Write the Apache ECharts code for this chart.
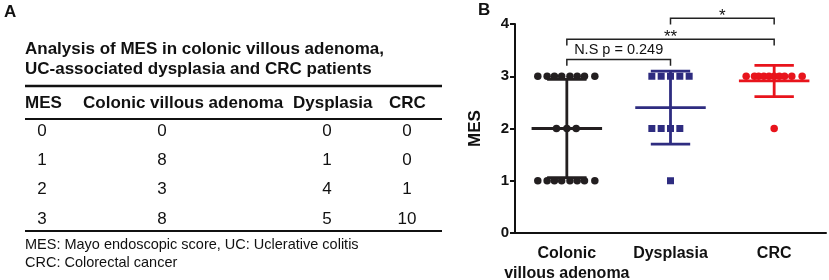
<!DOCTYPE html>
<html>
<head>
<meta charset="utf-8">
<script src="https://cdn.jsdelivr.net/npm/echarts@6/dist/echarts.min.js"></script>
<style>
  html, body { margin: 0; padding: 0; background: #fff; }
</style>
</head>
<body>
<div id="main" style="width:829px; height:280px;"></div>
<script>
// ---- table data (panel A) ----
var tableTitle = ['Analysis of MES in colonic villous adenoma,', 'UC-associated dysplasia and CRC patients'];
var tableHeader = ['MES', 'Colonic villous adenoma', 'Dysplasia', 'CRC'];
var mesScores = [0, 1, 2, 3];
var colonicCounts = [0, 8, 3, 8];
var dysplasiaCounts = [0, 1, 4, 5];
var crcCounts = [0, 0, 1, 10];
var footnotes = ['MES: Mayo endoscopic score, UC: Uclerative colitis', 'CRC: Colorectal cancer'];

// ---- dot plot data (panel B) ----
var groups = ['Colonic\nvillous adenoma', 'Dysplasia', 'CRC'];
var yTicks = [0, 1, 2, 3, 4];
// horizontal jitter of the dots, per MES level (in category widths)
var colonicJitter = { 1: [-0.28, -0.19, -0.12, -0.05, 0.03, 0.10, 0.17, 0.27], 2: [-0.10, 0, 0.09], 3: [-0.28, -0.19, -0.12, -0.05, 0.03, 0.10, 0.17, 0.27] };
var dysplasiaJitter = { 1: [0], 2: [-0.18, -0.09, 0, 0.09], 3: [-0.18, -0.09, 0, 0.09, 0.18] };
var crcJitter = { 2: [0], 3: [-0.27, -0.19, -0.15, -0.10, -0.05, 0, 0.05, 0.10, 0.17, 0.27] };
var means = [2.0, 2.4, 2.91];
var sds = [0.94, 0.70, 0.30];
// significance brackets
var sigPairs = [[0, 1], [0, 2], [1, 2]];
var sigLevels = [3.32, 3.71, 4.11];
var sigLabels = ['N.S p = 0.249', '**', '*'];

var groupColors = ['#231f20', '#2e2c80', '#e8141c'];
var FONT = 'Liberation Sans, Arial, Helvetica, sans-serif';

function buildPoints(g, counts, jitter) {
  var pts = [];
  for (var k = 0; k < counts.length; k++) {
    for (var j = 0; j < counts[k]; j++) {
      pts.push([g + jitter[k][j], mesScores[k]]);
    }
  }
  return pts;
}

// ---- table graphic elements ----
var graphics = [];
function txt(x, y, s, size, bold, align) {
  graphics.push({
    type: 'text', x: x, y: y,
    style: { text: String(s), font: (bold ? 'bold ' : '') + size + 'px ' + FONT, fill: '#111', textAlign: align || 'left', textVerticalAlign: 'middle' }
  });
}
function hline(y, w) {
  graphics.push({ type: 'line', shape: { x1: 25, y1: y, x2: 442, y2: y }, style: { stroke: '#111', lineWidth: w } });
}
txt(4, 12, 'A', 17, true);
txt(478, 10, 'B', 17, true);
tableTitle.forEach(function (t, i) { txt(25, 49 + i * 20, t, 17, true); });
hline(86, 2.5);
var headerX = [25, 83, 293, 389];
tableHeader.forEach(function (h, i) { txt(headerX[i], 103, h, 17, true); });
hline(119, 2);
var colX = [42, 162, 327, 407];
var rowY = [131, 160, 189.5, 219];
mesScores.forEach(function (m, r) {
  [m, colonicCounts[r], dysplasiaCounts[r], crcCounts[r]].forEach(function (v, c) {
    txt(colX[c], rowY[r], v, 17, false, 'center');
  });
});
hline(231, 2);
footnotes.forEach(function (f, i) { txt(25, 245 + i * 18, f, 14.5, false); });

var myChart = echarts.init(document.getElementById('main'));
myChart.setOption({
  animation: false,
  graphic: graphics,
  grid: { left: 515, right: 3, top: 24, bottom: 47, containLabel: false, outerBoundsMode: 'none' },
  xAxis: [
    {
      type: 'category', data: groups, boundaryGap: true,
      axisLine: { onZero: false, lineStyle: { color: '#111', width: 2 } },
      axisTick: { alignWithLabel: true, length: 5, lineStyle: { width: 2, color: '#111' } },
      axisLabel: { interval: 0, margin: 11, color: '#111', fontFamily: FONT, fontWeight: 'bold', fontSize: 16, lineHeight: 20 }
    },
    { type: 'value', min: -0.5, max: 2.5, show: false }
  ],
  yAxis: {
    type: 'value', min: 0, max: 4, interval: 1,
    name: 'MES', nameLocation: 'middle', nameGap: 31,
    nameTextStyle: { color: '#111', fontFamily: FONT, fontWeight: 'bold', fontSize: 17 },
    axisLine: { show: true, onZero: false, lineStyle: { color: '#111', width: 2 } },
    axisTick: { show: true, length: 5, lineStyle: { width: 2, color: '#111' } },
    axisLabel: { margin: 6, color: '#111', fontFamily: FONT, fontWeight: 'bold', fontSize: 15,
      formatter: function (v) { return yTicks.indexOf(v) >= 0 ? v : ''; } },
    splitLine: { show: false }
  },
  series: [
    { type: 'scatter', xAxisIndex: 1, symbol: 'circle', symbolSize: 7.5, itemStyle: { color: groupColors[0], opacity: 1 }, data: buildPoints(0, colonicCounts, colonicJitter) },
    { type: 'scatter', xAxisIndex: 1, symbol: 'rect', symbolSize: 7, itemStyle: { color: groupColors[1], opacity: 1 }, data: buildPoints(1, dysplasiaCounts, dysplasiaJitter) },
    { type: 'scatter', xAxisIndex: 1, symbol: 'circle', symbolSize: 7.5, itemStyle: { color: groupColors[2], opacity: 1 }, data: buildPoints(2, crcCounts, crcJitter) },
    {
      // mean +- SD bars
      type: 'custom', xAxisIndex: 1, z: 5, clip: false,
      data: means.map(function (m, i) { return [i, m, sds[i]]; }),
      renderItem: function (params, api) {
        var x = api.value(0), m = api.value(1), s = api.value(2);
        var col = groupColors[params.dataIndex];
        var st = { stroke: col, lineWidth: 2.8 };
        function seg(a, b) {
          var p1 = api.coord(a), p2 = api.coord(b);
          return { type: 'line', shape: { x1: p1[0], y1: p1[1], x2: p2[0], y2: p2[1] }, style: st };
        }
        return {
          type: 'group', children: [
            seg([x, m - s], [x, m + s]),
            seg([x - 0.34, m], [x + 0.34, m]),
            seg([x - 0.19, m + s], [x + 0.19, m + s]),
            seg([x - 0.19, m - s], [x + 0.19, m - s])
          ]
        };
      }
    },
    {
      // significance brackets
      type: 'custom', xAxisIndex: 1, z: 6, clip: false,
      data: sigPairs.map(function (p, i) { return [p[0], p[1], sigLevels[i]]; }),
      renderItem: function (params, api) {
        var a = api.value(0), b = api.value(1), y = api.value(2);
        var p1 = api.coord([a, y]), p2 = api.coord([b, y]);
        var drop = api.size([0, 0.12])[1];
        var label = sigLabels[params.dataIndex];
        var isStar = label.indexOf('*') === 0;
        return {
          type: 'group', children: [
            { type: 'polyline', shape: { points: [[p1[0], p1[1] + drop], [p1[0], p1[1]], [p2[0], p2[1]], [p2[0], p2[1] + drop]] },
              style: { stroke: '#222', lineWidth: 1.5, fill: null } },
            { type: 'text', x: (p1[0] + p2[0]) / 2, y: p1[1] - (isStar ? 2 : 10),
              style: { text: label, font: (isStar ? '17px ' : '14.5px ') + FONT, fill: '#111', textAlign: 'center', textVerticalAlign: 'middle' } }
          ]
        };
      }
    }
  ]
});
</script>
</body>
</html>
